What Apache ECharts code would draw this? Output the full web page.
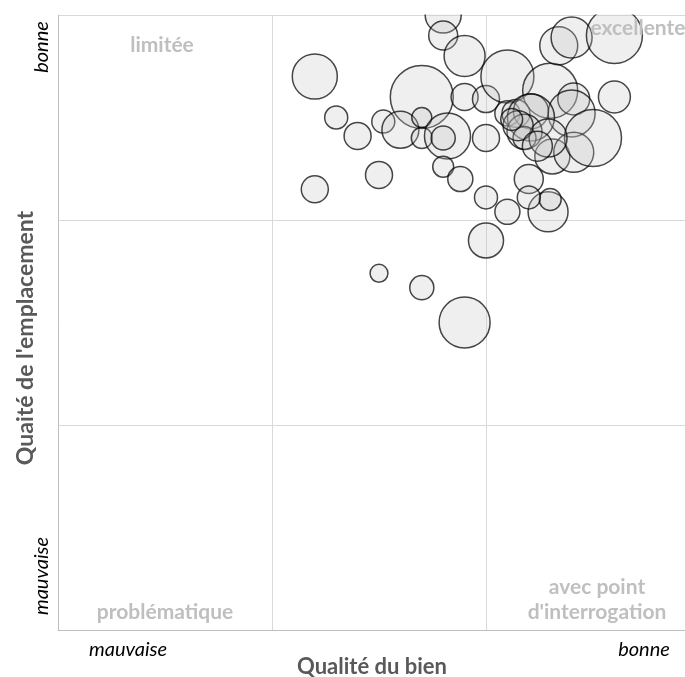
<!DOCTYPE html>
<html>
<head>
<meta charset="utf-8">
<script src="https://cdn.jsdelivr.net/npm/echarts@6/dist/echarts.min.js"></script>
<style>html,body{margin:0;padding:0;background:#fff;overflow:hidden}#c{width:700px;height:677px}</style>
</head>
<body>
<div id="c"></div>
<script>
// Qualité du bien (0 = mauvaise, 3 = bonne)
const qualiteBien = [1.80,1.80,1.90,1.20,1.70,1.90,2.00,2.10,2.30,2.34,2.40,2.60,2.60,2.41,2.40,1.30,1.40,1.52,1.60,1.70,1.70,1.82,1.80,1.80,1.88,1.50,1.20,2.00,2.00,1.50,1.70,1.90,2.10,2.29,2.30,2.00,2.20,2.20,2.31,2.41,2.50,2.10,2.14,2.21,2.21,2.18,2.18,2.29,2.15,2.24,2.12];
// Qualité de l'emplacement (0 = mauvaise, 3 = bonne)
const qualiteEmplacement = [3.00,2.90,2.80,2.70,2.60,2.60,2.59,2.70,2.63,2.85,2.89,2.90,2.60,2.59,2.52,2.50,2.41,2.48,2.44,2.50,2.40,2.41,2.40,2.26,2.20,2.22,2.15,2.40,1.90,1.74,1.67,1.50,2.04,2.04,2.10,2.11,2.20,2.11,2.31,2.33,2.40,2.52,2.52,2.53,2.50,2.43,2.40,2.40,2.46,2.36,2.49];
// Taille (volume) de chaque bien
const volume = [13.0,8.4,16.8,20.3,39.7,7.3,7.3,28.1,30.3,14.4,16.8,31.4,10.2,10.2,22.1,5.3,7.3,5.3,13.7,4.0,4.4,21.2,5.8,4.4,6.3,7.3,7.3,7.3,12.3,3.2,5.8,26.0,6.3,16.0,4.8,5.3,8.4,5.3,12.3,16.0,32.5,6.3,7.8,12.3,22.1,12.3,5.3,14.4,9.0,9.0,4.8];
const quadrantLabels = ['limitée','excellente','problématique','avec point\nd\'interrogation'];
const axisEnds = ['mauvaise','bonne'];

const data = qualiteBien.map((x,i)=>[x, qualiteEmplacement[i], volume[i]]);

const chart = echarts.init(document.getElementById('c'));
const F = 'Lato, "Open Sans", sans-serif';
const quadStyle = {fill:'#bfbfbf', font:'bold 21px '+F, textAlign:'center', textVerticalAlign:'middle'};
const endStyle = {fill:'#000', font:'italic 20px '+F, textAlign:'center', textVerticalAlign:'middle'};
chart.setOption({
  animation:false,
  grid:{left:58, top:15, right:0, bottom:47, containLabel:false},
  xAxis:{type:'value', min:0, max:3, interval:1,
    axisLine:{show:true, lineStyle:{color:'#bfbfbf', width:1}},
    axisTick:{show:false}, axisLabel:{show:false},
    splitLine:{show:true, lineStyle:{color:'#d9d9d9', width:1}}},
  yAxis:{type:'value', min:0, max:3, interval:1,
    axisLine:{show:true, lineStyle:{color:'#bfbfbf', width:1}},
    axisTick:{show:false}, axisLabel:{show:false},
    splitLine:{show:true, lineStyle:{color:'#d9d9d9', width:1}}},
  series:[{
    type:'scatter', clip:false, z:3,
    data:data,
    symbolSize:d=>10*Math.sqrt(d[2]),
    itemStyle:{color:'rgba(195,195,195,0.33)', borderColor:'rgba(0,0,0,0.9)', borderWidth:1.5},
    emphasis:{disabled:true}
  }],
  graphic:[
    {type:'rect', shape:{x:0,y:0,width:700,height:14.5}, style:{fill:'#fff'}, z:100, silent:true},
    {type:'text', x:162, y:45, style:Object.assign({text:quadrantLabels[0]}, quadStyle), z:1},
    {type:'text', x:638, y:28, style:Object.assign({text:quadrantLabels[1]}, quadStyle), z:101},
    {type:'text', x:165, y:612, style:Object.assign({text:quadrantLabels[2]}, quadStyle), z:1},
    {type:'text', x:597, y:600, style:Object.assign({text:quadrantLabels[3], lineHeight:25}, quadStyle), z:1},
    {type:'text', x:128, y:650, style:Object.assign({text:axisEnds[0]}, endStyle)},
    {type:'text', x:644, y:650, style:Object.assign({text:axisEnds[1]}, endStyle)},
    {type:'text', x:372, y:667, style:{text:'Qualité du bien', fill:'#595959', font:'bold 22px '+F, textAlign:'center', textVerticalAlign:'middle'}},
    {type:'text', x:42, y:47, rotation:Math.PI/2, style:Object.assign({text:axisEnds[1]}, endStyle)},
    {type:'text', x:42, y:576, rotation:Math.PI/2, style:Object.assign({text:axisEnds[0]}, endStyle)},
    {type:'text', x:26, y:338, rotation:Math.PI/2, style:{text:'Quaité de l\'emplacement', fill:'#595959', font:'bold 23px '+F, textAlign:'center', textVerticalAlign:'middle'}}
  ]
});
</script>
</body>
</html>
